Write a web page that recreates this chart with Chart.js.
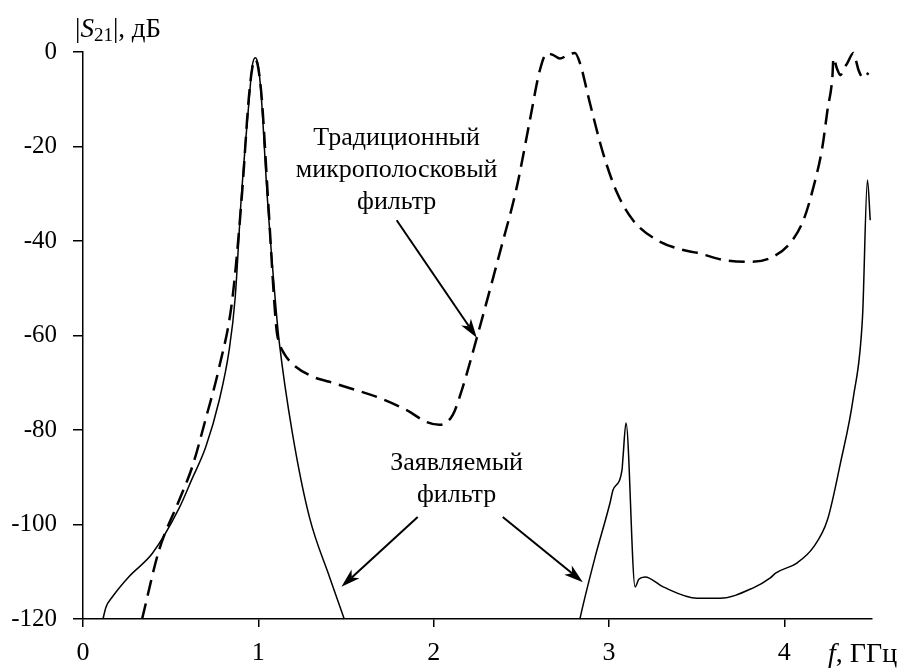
<!DOCTYPE html>
<html lang="ru">
<head>
<meta charset="utf-8">
<title>|S21|, дБ</title>
<script src="https://cdn.jsdelivr.net/npm/chart.js@4.4.1/dist/chart.umd.min.js"></script>
<style>
    html, body { margin: 0; padding: 0; background: #fff; }
    #wrap { width: 911px; height: 671px; }
</style>
</head>
<body>
<div id="wrap"><canvas id="s21Chart" width="911" height="671"></canvas></div>
<script>
"use strict";

//Традиционный микрополосковый фильтр (пунктир)
const tradFreq = [0.337, 0.434, 0.549, 0.623, 0.703, 0.777, 0.851, 0.905, 0.945, 0.965, 0.983, 1.0, 1.02, 1.055, 1.103,
    1.12, 1.15, 1.194, 1.309, 1.406, 1.5, 1.69, 1.846, 1.96, 2.034, 2.109, 2.166, 2.246, 2.377, 2.474, 2.549, 2.606,
    2.646, 2.68, 2.72, 2.766, 2.806, 2.834, 2.891, 2.966, 3.046, 3.137, 3.274, 3.423, 3.503, 3.651, 3.806, 3.92,
    4.034, 4.109, 4.166, 4.217, 4.246, 4.274, 4.28, 4.3, 4.32, 4.34, 4.36, 4.394, 4.41, 4.423, 4.451, 4.48];
const tradDb = [-120, -105.4, -94.8, -87.8, -77.2, -66.7, -52.5, -31, -10, -3.5, -1.6, -3.5, -10, -31, -58.5,
    -61.6, -64, -66, -68.7, -69.8, -70.9, -73.2, -75.8, -78.3, -78.9, -76.8, -70.9, -60.5, -42.5, -28.6, -14.4, -3.8,
    -0.3, -0.6, -1.4, -0.6, -0.2, -2.3, -10.8, -21.4, -29.8, -35.6, -39.8, -41.9, -42.5, -44, -44.4, -43.6,
    -40.4, -35.6, -28.6, -20.1, -12.3, -5.3, -1.3, -3.5, -4.9, -3.5, -2.3, -0.2, -2, -3.8, -5.5, -4.4];

//Заявляемый фильтр (сплошная), две ветви
const claimedLowFreq = [0.114, 0.13, 0.168, 0.263, 0.396, 0.549, 0.62, 0.70, 0.777, 0.834, 0.868, 0.903, 0.949, 0.965,
    0.983, 1.0, 1.017, 1.051, 1.103, 1.12, 1.194, 1.291, 1.406, 1.49];
const claimedLowDb = [-120, -117.6, -115.3, -111, -106.1, -96.5, -90.5, -83.6, -73.7, -63, -52, -30.7, -9.5, -3,
    -1.2, -3, -9.5, -30.7, -55.2, -61.6, -80.6, -98.4, -111.1, -120];

const claimedHighFreq = [2.834, 2.846, 2.92, 3.006, 3.023, 3.074, 3.08, 3.097, 3.149, 3.17, 3.206, 3.309, 3.503,
    3.634, 3.823, 3.92, 3.95, 4.074, 4.166, 4.246, 4.32, 4.394, 4.446, 4.474, 4.49];
const claimedHighDb = [-120, -118, -107, -95.4, -92.7, -88.5, -85.7, -78.5, -113.2, -111.6, -111.1, -113.2, -115.6,
    -115.6, -113.4, -111.3, -110.3, -108.1, -104.8, -99, -87, -73, -56, -27.1, -35.6];

//Деления осей
const xTicks = [0, 1, 2, 3, 4];
const yTicks = [0, -20, -40, -60, -80, -100, -120];

const serif = "'Liberation Serif', 'Times New Roman', serif";

/**
 * Собирает массив точек {x, y}
 * @param {Array} xs
 * @param {Array} ys
 */
function toPoints(xs, ys){
    return xs.map((x, i) => ({ x: x, y: ys[i] }));
}

//Подписи и стрелки (в координатах данных)
const notes = [
    { text: "Традиционный", x: 1.789, y: -18.2 },
    { text: "микрополосковый", x: 1.789, y: -25 },
    { text: "фильтр", x: 1.789, y: -31.7 },
    { text: "Заявляемый", x: 2.131, y: -87 },
    { text: "фильтр", x: 2.131, y: -93.8 }
];
const arrows = [
    { from: [1.789, -35.6], to: [2.246, -60.5] },
    { from: [1.909, -98.4], to: [1.474, -113.2] },
    { from: [2.394, -98.4], to: [2.851, -112.2] }
];

/**
 * Рисует стрелку с заполненным наконечником
 */
function drawArrow(ctx, x1, y1, x2, y2){
    const ang = Math.atan2(y2 - y1, x2 - x1);
    const len = 20, back = 14, spread = 0.3;
    ctx.beginPath();
    ctx.moveTo(x1, y1);
    ctx.lineTo(x2 - Math.cos(ang) * back, y2 - Math.sin(ang) * back);
    ctx.stroke();
    ctx.beginPath();
    ctx.moveTo(x2, y2);
    ctx.lineTo(x2 - Math.cos(ang - spread) * len, y2 - Math.sin(ang - spread) * len);
    ctx.lineTo(x2 - Math.cos(ang) * back, y2 - Math.sin(ang) * back);
    ctx.lineTo(x2 - Math.cos(ang + spread) * len, y2 - Math.sin(ang + spread) * len);
    ctx.closePath();
    ctx.fill();
}

const annotationPlugin = {
    id: "annotations",
    afterDraw(chart){
        const ctx = chart.ctx;
        const xs = chart.scales.x;
        const ys = chart.scales.y;
        ctx.save();
        ctx.fillStyle = "#000";
        ctx.strokeStyle = "#000";
        ctx.lineWidth = 2;

        //Текст
        ctx.font = "26px " + serif;
        ctx.textAlign = "center";
        ctx.textBaseline = "middle";
        notes.forEach(n => {
            ctx.fillText(n.text, xs.getPixelForValue(n.x), ys.getPixelForValue(n.y));
        });

        //Стрелки
        arrows.forEach(a => {
            drawArrow(ctx,
                xs.getPixelForValue(a.from[0]), ys.getPixelForValue(a.from[1]),
                xs.getPixelForValue(a.to[0]), ys.getPixelForValue(a.to[1]));
        });

        //Подпись оси Y: |S21|, дБ
        ctx.textAlign = "left";
        ctx.textBaseline = "alphabetic";
        let x = 75;
        const base = 37;
        ctx.font = "27px " + serif;
        ctx.fillText("|", x, base);
        x += ctx.measureText("|").width;
        ctx.font = "italic 27px " + serif;
        ctx.fillText("S", x, base);
        x += ctx.measureText("S").width;
        ctx.font = "19px " + serif;
        ctx.fillText("21", x, base + 4);
        x += ctx.measureText("21").width;
        ctx.font = "27px " + serif;
        ctx.fillText("|, дБ", x, base);

        //Подпись оси X: f, ГГц
        x = 828;
        const baseX = 662;
        ctx.font = "italic 28px " + serif;
        ctx.fillText("f", x, baseX);
        x += ctx.measureText("f").width;
        ctx.font = "28px " + serif;
        ctx.fillText(", ГГц", x, baseX);
        ctx.restore();
    }
};

const lineStyle = {
    borderColor: "#000",
    pointRadius: 0,
    fill: false,
    cubicInterpolationMode: "monotone",
    clip: 4
};

new Chart(document.getElementById("s21Chart"), {
    type: "line",
    data: {
        datasets: [
            Object.assign({ label: "Традиционный микрополосковый фильтр", data: toPoints(tradFreq, tradDb),
                borderWidth: 2.5, borderDash: [16, 8] }, lineStyle),
            Object.assign({ label: "Заявляемый фильтр", data: toPoints(claimedLowFreq, claimedLowDb),
                borderWidth: 1.5 }, lineStyle),
            Object.assign({ label: "Заявляемый фильтр (2)", data: toPoints(claimedHighFreq, claimedHighDb),
                borderWidth: 1.5 }, lineStyle)
        ]
    },
    options: {
        responsive: false,
        animation: false,
        layout: { padding: { top: 52, right: 39, bottom: 0, left: 0 } },
        plugins: {
            legend: { display: false },
            tooltip: { enabled: false }
        },
        scales: {
            x: {
                type: "linear",
                min: 0,
                max: 4.5,
                afterFit: (s) => { s.height = 52; },
                afterBuildTicks: (s) => { s.ticks = xTicks.map(v => ({ value: v })); },
                border: { display: true, color: "#000", width: 1.5 },
                grid: { drawOnChartArea: false, drawTicks: true, tickLength: 8, color: "#000", lineWidth: 1.5 },
                ticks: { color: "#000", padding: 11, maxRotation: 0, font: { family: serif, size: 26 } }
            },
            y: {
                type: "linear",
                min: -120,
                max: 0,
                afterFit: (s) => { s.width = 83; },
                afterBuildTicks: (s) => { s.ticks = yTicks.map(v => ({ value: v })); },
                border: { display: true, color: "#000", width: 1.5 },
                grid: { drawOnChartArea: false, drawTicks: true, tickLength: 10, color: "#000", lineWidth: 1.5 },
                ticks: { color: "#000", padding: 16, font: { family: serif, size: 25 } }
            }
        }
    },
    plugins: [annotationPlugin]
});
</script>
</body>
</html>
